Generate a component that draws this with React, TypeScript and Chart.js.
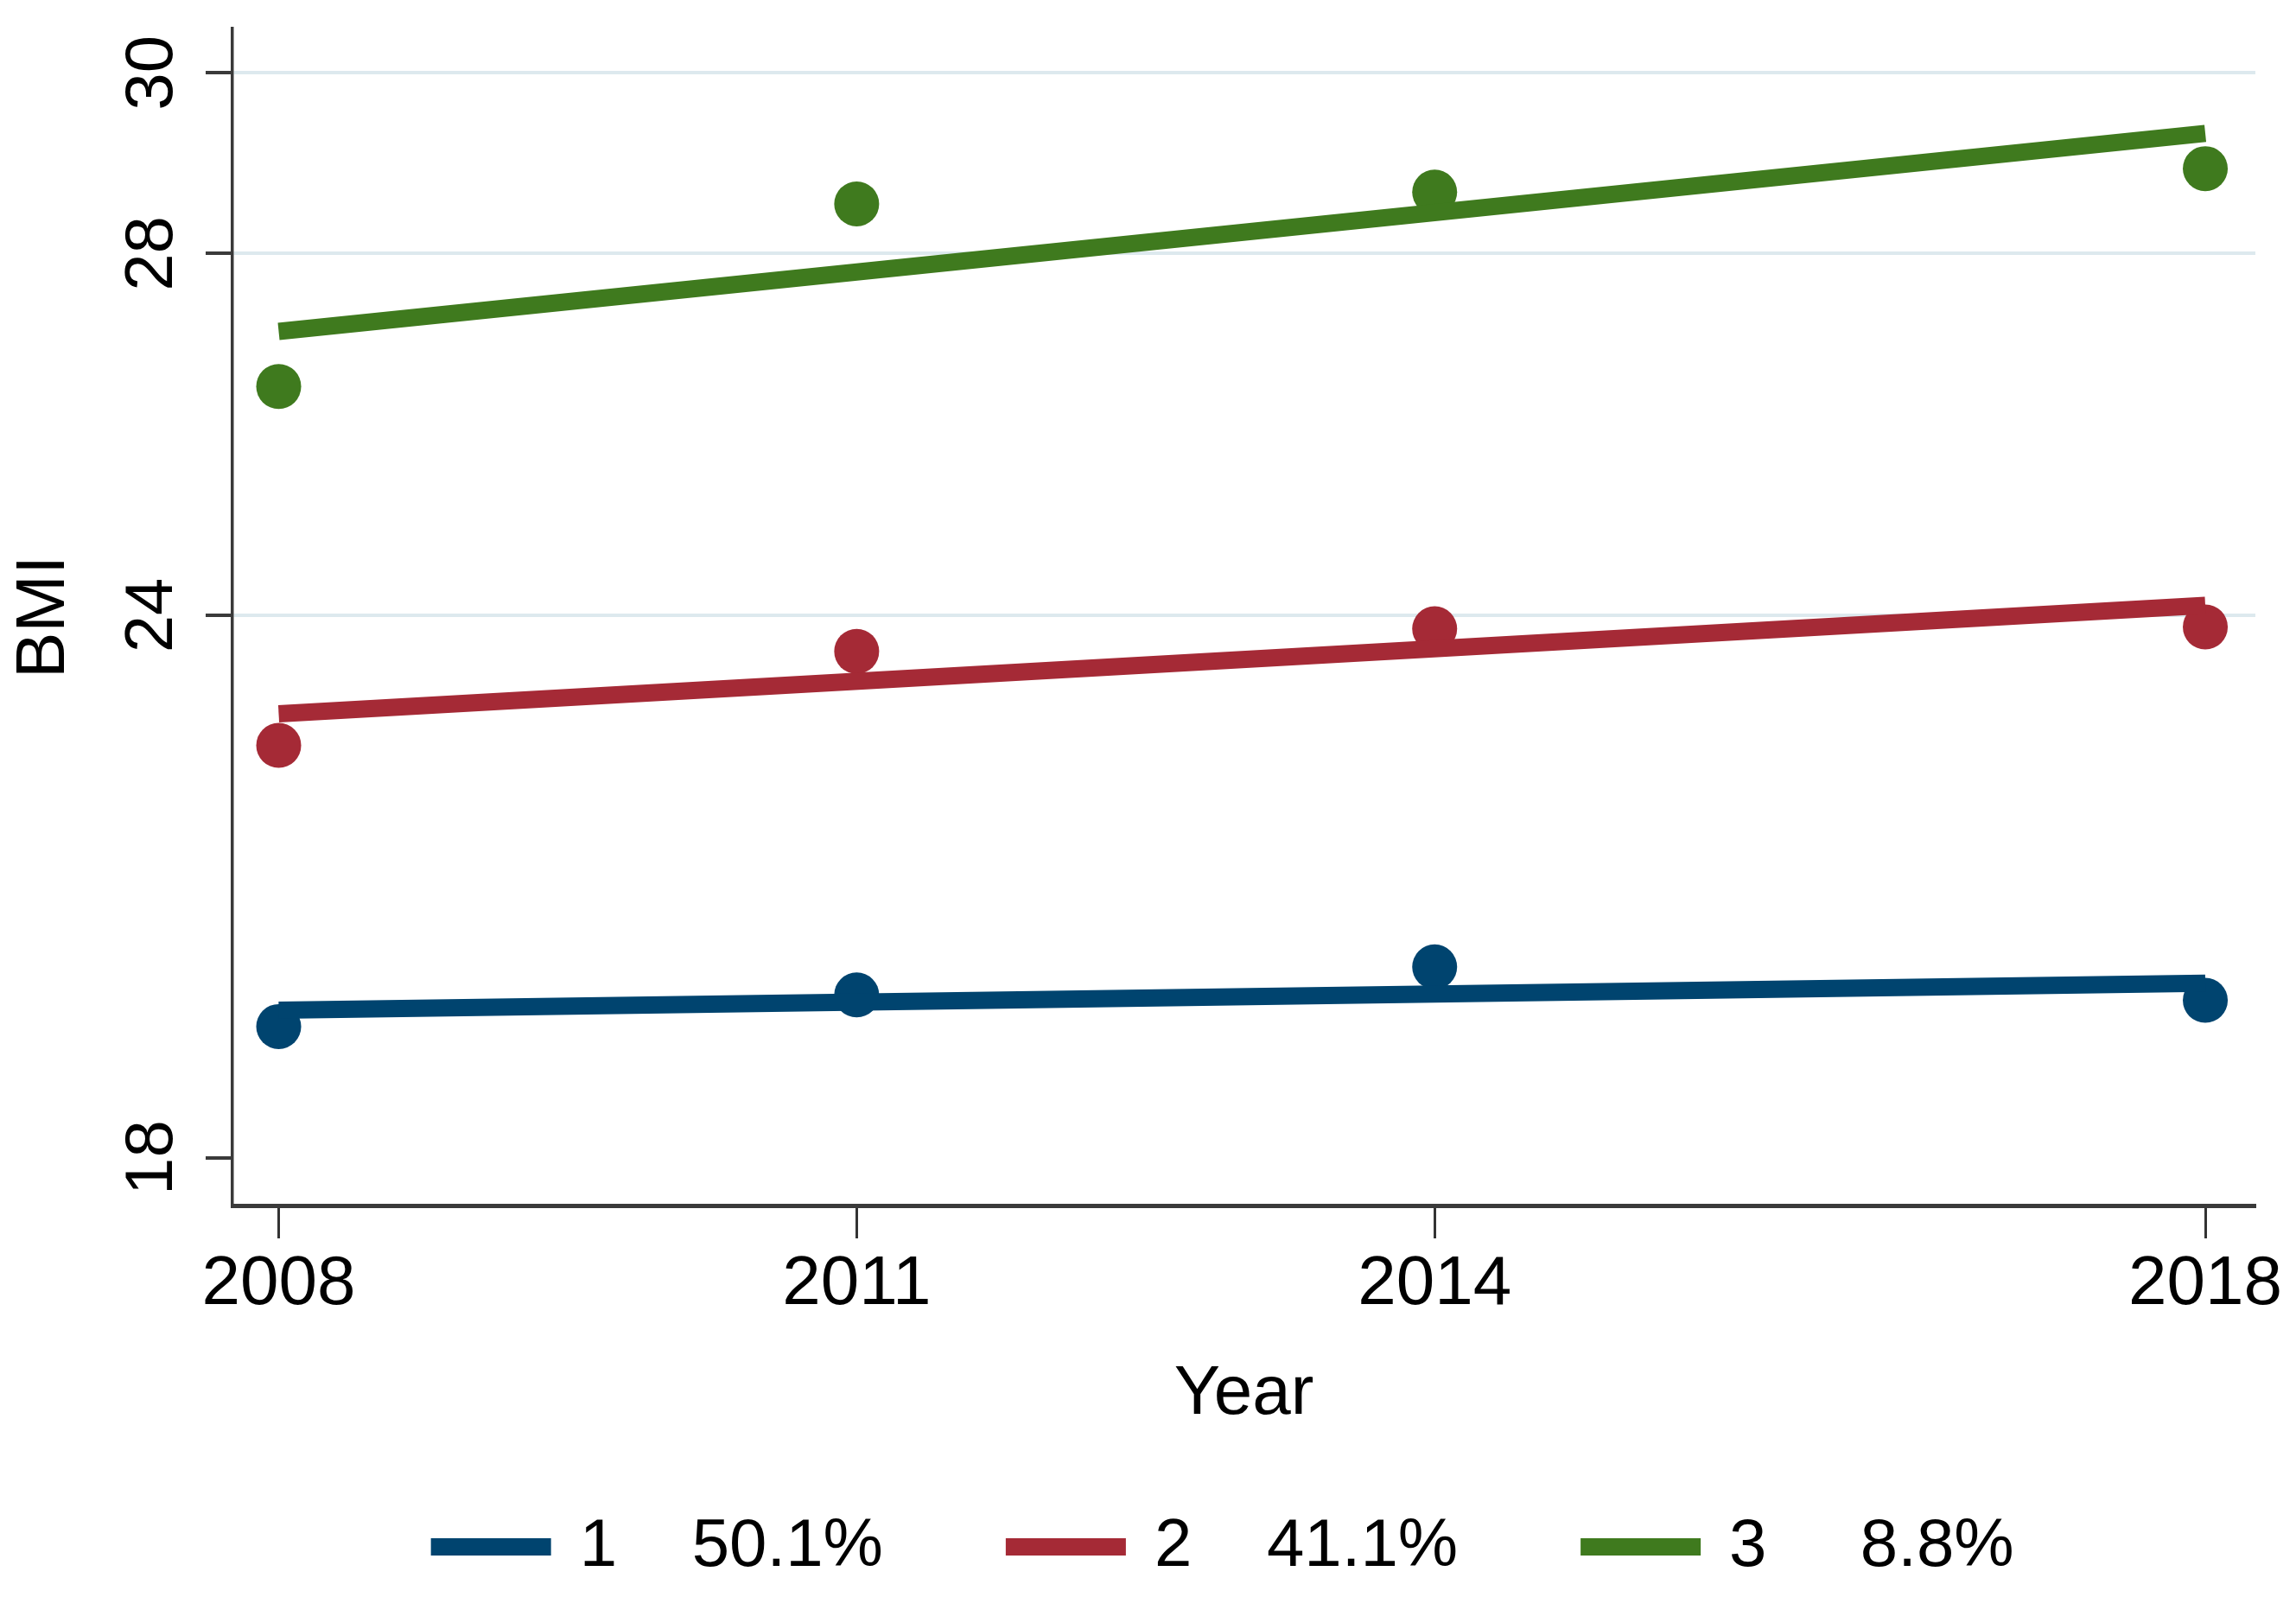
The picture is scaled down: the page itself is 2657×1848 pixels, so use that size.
import React, { useEffect, useRef } from "react";
import { Chart, registerables } from "chart.js";

Chart.register(...registerables);

// ---- data ----
const years = [2008, 2011, 2014, 2018];
const fitYears = [2008, 2018];
const classLabels = ["1", "2", "3"];
const classShares = ["50.1%", "41.1%", "8.8%"];
const observed1 = [19.45, 19.8, 20.11, 19.74];
const observed2 = [22.56, 23.6, 23.85, 23.87];
const observed3 = [26.53, 28.55, 28.68, 28.94];
const fitted1 = [19.63, 19.93];
const fitted2 = [22.91, 24.11];
const fitted3 = [27.14, 29.33];
const yTickValues = [18, 24, 28, 30];
const xTickValues = [2008, 2011, 2014, 2018];

const COLORS = ["#00446f", "#a52a36", "#3f7a1e"];
const FONT = "'Liberation Sans', Arial, Helvetica, sans-serif";

const observedAll = [observed1, observed2, observed3];
const fittedAll = [fitted1, fitted2, fitted3];

const legendPlugin = {
  id: "stataLegend",
  afterDraw(chart: any) {
    const { ctx, chartArea } = chart;
    const items = chart.data.datasets.filter((d: any) => d.legendText);
    ctx.save();
    ctx.font = `78px ${FONT}`;
    ctx.textBaseline = "middle";
    ctx.textAlign = "left";
    const swW = 139;
    const swH = 20;
    const gapText = 33;
    const colGap = 142;
    const widths = items.map((d: any) => swW + gapText + ctx.measureText(d.legendText).width);
    const colW = Math.max(...widths);
    const total = colW * items.length + colGap * (items.length - 1);
    const cx = (chartArea.left + chartArea.right) / 2 - 14;
    let x = cx - total / 2;
    const y = 1790;
    items.forEach((d: any) => {
      ctx.fillStyle = d.borderColor;
      ctx.fillRect(x, y - swH / 2, swW, swH);
      ctx.fillStyle = "#000";
      ctx.fillText(d.legendText, x + swW + gapText, y);
      x += colW + colGap;
    });
    ctx.restore();
  },
};

export default function App() {
  const canvasRef = useRef<HTMLCanvasElement | null>(null);

  useEffect(() => {
    document.body.style.margin = "0";
    document.body.style.overflow = "hidden";
    const canvas = canvasRef.current;
    if (!canvas) return;

    const datasets: any[] = [];
    fittedAll.forEach((vals, i) => {
      datasets.push({
        label: `fit ${classLabels[i]}`,
        legendText: `${classLabels[i]}    ${classShares[i].padStart(5)}`,
        data: fitYears.map((x, j) => ({ x, y: vals[j] })),
        showLine: true,
        borderColor: COLORS[i],
        backgroundColor: COLORS[i],
        borderWidth: 20,
        borderCapStyle: "butt",
        pointRadius: 0,
        pointHoverRadius: 0,
        order: 0,
      });
    });
    observedAll.forEach((vals, i) => {
      datasets.push({
        label: `obs ${classLabels[i]}`,
        data: years.map((x, j) => ({ x, y: vals[j] })),
        showLine: false,
        pointRadius: 26,
        pointHoverRadius: 26,
        pointBorderWidth: 0,
        pointBackgroundColor: COLORS[i],
        borderColor: COLORS[i],
        backgroundColor: COLORS[i],
        order: 1,
      });
    });

    const chart = new Chart(canvas, {
      type: "scatter",
      data: { datasets },
      plugins: [legendPlugin],
      options: {
        animation: false,
        responsive: true,
        maintainAspectRatio: false,
        events: [],
        layout: { padding: { top: 33, right: 47, bottom: 180, left: 0 } },
        plugins: {
          legend: { display: false },
          tooltip: { enabled: false },
        },
        scales: {
          x: {
            type: "linear",
            min: 2007.76,
            max: 2018.26,
            afterBuildTicks: (s: any) => {
              s.ticks = xTickValues.map((v) => ({ value: v }));
            },
            afterFit: (s: any) => {
              s.height = 1848 - 180 - 1395;
              s.paddingLeft = 0;
              s.paddingRight = 0;
            },
            grid: {
              drawOnChartArea: false,
              drawTicks: true,
              tickLength: 38,
              tickWidth: 3,
              tickColor: "#333",
            },
            border: { display: true, color: "#3a3a3a", width: 5 },
            ticks: {
              autoSkip: false,
              minRotation: 0,
              maxRotation: 0,
              padding: 6,
              color: "#000",
              font: { family: FONT, size: 80 },
              callback: (v: any) => String(v),
            },
            title: {
              display: true,
              text: "Year",
              color: "#000",
              font: { family: FONT, size: 80 },
              padding: { top: 0, bottom: 6 },
            },
          },
          y: {
            type: "linear",
            min: 17.47,
            max: 30.49,
            afterBuildTicks: (s: any) => {
              s.ticks = yTickValues.map((v) => ({ value: v }));
            },
            afterFit: (s: any) => {
              s.width = 269;
              s.paddingTop = 0;
              s.paddingBottom = 0;
            },
            grid: {
              drawOnChartArea: true,
              drawTicks: true,
              tickLength: 31,
              tickWidth: 4,
              tickColor: "#3a3a3a",
              lineWidth: 4,
              color: (c: any) => (c.tick && c.tick.value === 18 ? "rgba(0,0,0,0)" : "#dde9ee"),
            },
            border: { display: true, color: "#3a3a3a", width: 3.5 },
            ticks: {
              autoSkip: false,
              minRotation: 90,
              maxRotation: 90,
              crossAlign: "center",
              padding: 17,
              color: "#000",
              font: { family: FONT, size: 78 },
              callback: (v: any) => String(v),
            },
            title: {
              display: true,
              text: "BMI",
              color: "#000",
              font: { family: FONT, size: 80 },
              padding: { top: 4, bottom: 0 },
            },
          },
        },
      } as any,
    });

    return () => {
      chart.destroy();
    };
  }, []);

  return (
    <div style={{ width: "2657px", height: "1848px", position: "relative", background: "#fff" }}>
      <canvas ref={canvasRef} />
    </div>
  );
}
